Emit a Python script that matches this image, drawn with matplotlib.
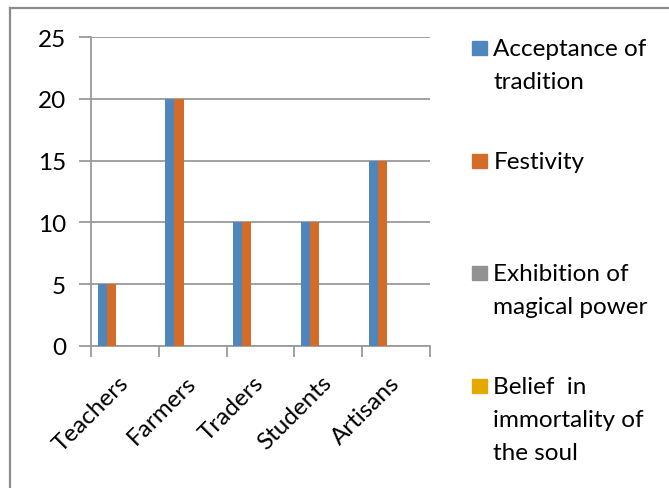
import matplotlib
matplotlib.use("Agg")
import matplotlib.pyplot as plt
from matplotlib.lines import Line2D
from matplotlib.patches import Rectangle
import numpy as np

categories = ["Teachers", "Farmers", "Traders", "Students", "Artisans"]
series_names = ["Acceptance of\ntradition", "Festivity",
                "Exhibition of\nmagical power", "Belief  in\nimmortality of\nthe soul"]
acceptance = [5, 20, 10, 10, 15]
festivity = [5, 20, 10, 10, 15]
exhibition = [0, 0, 0, 0, 0]
belief = [0, 0, 0, 0, 0]
series_values = [acceptance, festivity, exhibition, belief]
colors = ["#4F87BD", "#D46C29", "#929292", "#E2A900"]
yticks = [0, 5, 10, 15, 20, 25]

FONT = ["Lato", "DejaVu Sans"]
plt.rcParams["font.family"] = FONT
FS = 17.5

W, H = 669, 489
fig = plt.figure(figsize=(W / 100, H / 100), dpi=100)

# outer frame (top and left edges)
grey = "#8C8C8C"
fig.add_artist(Line2D([9.5 / W, 1.0], [1 - 8.5 / H, 1 - 8.5 / H],
                      transform=fig.transFigure, color=grey, lw=1.6))
fig.add_artist(Line2D([9.5 / W, 9.5 / W], [0.0, 1 - 8.5 / H],
                      transform=fig.transFigure, color=grey, lw=1.6))

ax_l, ax_r, ax_t, ax_b = 91, 430, 38.3, 346.7
ax = fig.add_axes([ax_l / W, 1 - ax_b / H, (ax_r - ax_l) / W, (ax_b - ax_t) / H])

x = np.arange(len(categories))
bw = 0.135
start = -0.404
for k, (vals, col) in enumerate(zip(series_values, colors)):
    ax.bar(x + start + k * bw, vals, width=bw, align="edge", color=col,
           edgecolor="none", zorder=3)

ax.set_xlim(-0.5, len(categories) - 0.5)
ax.set_ylim(0, 25)

axis_col = "#9A9A9A"
for s in ["top", "right"]:
    ax.spines[s].set_visible(False)
for s in ["left", "bottom"]:
    ax.spines[s].set_color(axis_col)
    ax.spines[s].set_linewidth(1.3)

ax.set_yticks(yticks)
ax.set_yticklabels([str(v) for v in yticks], fontsize=FS, color="black")
ax.tick_params(axis="y", length=9, width=1.3, color=axis_col, pad=9)
ax.yaxis.grid(True, color=axis_col, linewidth=1.3, zorder=0)

ax.set_xticks(x)
ax.set_xticklabels(categories, fontsize=FS, rotation=45, ha="right",
                   rotation_mode="anchor", va="center")
ax.tick_params(axis="x", which="major", length=0, pad=24)
ax.set_xticks(np.arange(len(categories) + 1) - 0.5, minor=True)
ax.tick_params(axis="x", which="minor", length=8, width=1.3, color=axis_col)

# legend entries drawn at evenly spaced rows
sq_x, sq_size = 472.3, 14.4
txt_x = 493.3
row_tops = [42.0, 155.0, 267.0, 380.0]
for name, col, top in zip(series_names, colors, row_tops):
    fig.add_artist(Rectangle((sq_x / W, 1 - (top + sq_size) / H), sq_size / W, sq_size / H,
                             transform=fig.transFigure, color=col))
    fig.text(txt_x / W, 1 - (top - 3.0) / H, name, fontsize=FS, va="top",
             ha="left", linespacing=1.7)

fig.savefig("out.png", dpi=100)
